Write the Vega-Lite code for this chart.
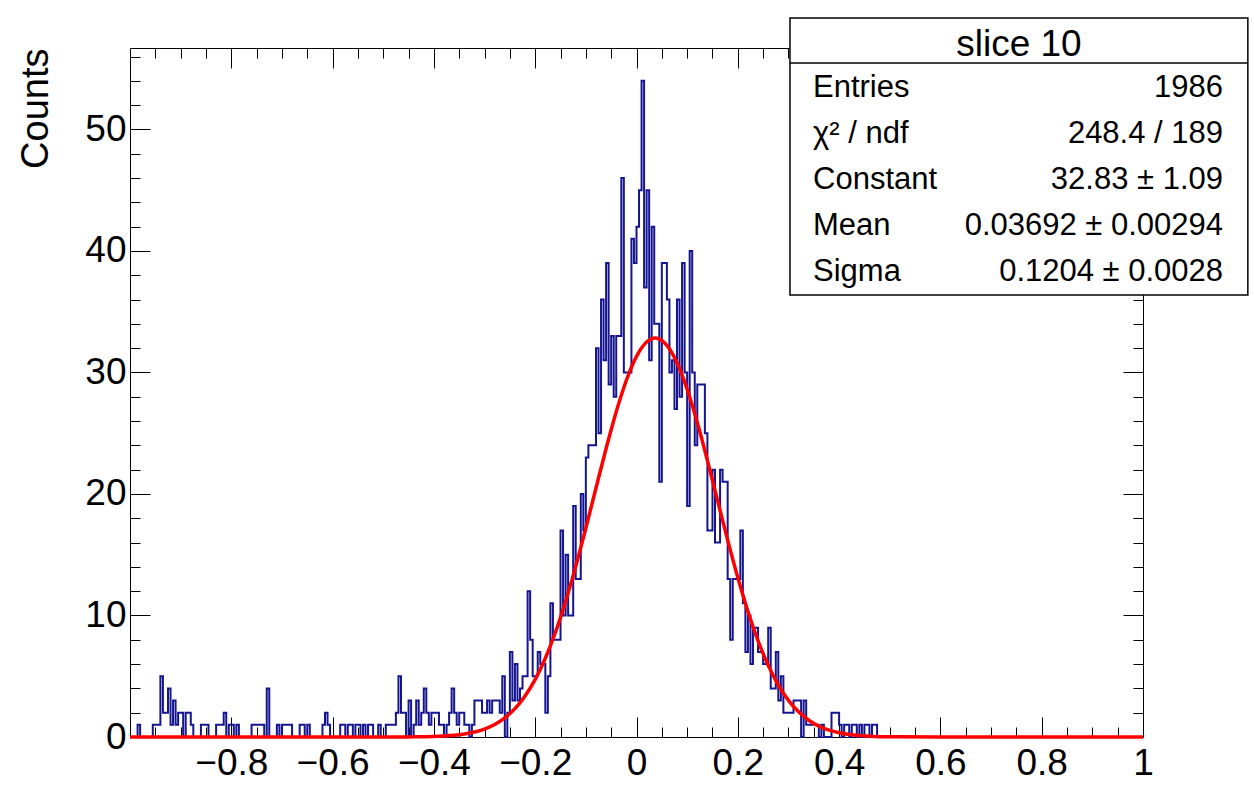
{
"$schema":"https://vega.github.io/schema/vega-lite/v6.json",
"width":1013,"height":689,
"autosize":{"type":"none"},
"padding":{"left":130,"top":48,"right":111,"bottom":50},
"background":"white",
"config":{"view":{"stroke":null},"font":"Liberation Sans",
"axis":{"grid":false,"labelFont":"Liberation Sans","titleFont":"Liberation Sans","tickColor":"black","domainColor":"black","labelColor":"black","titleColor":"black","titleFontWeight":"normal","tickWidth":1,"domainWidth":1}},
"datasets":{
"hist":[
{"x":-1,"n":0},{"x":-0.995,"n":0},{"x":-0.99,"n":0},{"x":-0.985,"n":1},{"x":-0.98,"n":0},{"x":-0.975,"n":0},{"x":-0.97,"n":0},{"x":-0.965,"n":0},{"x":-0.96,"n":0},{"x":-0.955,"n":1},
{"x":-0.95,"n":1},{"x":-0.945,"n":1},{"x":-0.94,"n":5},{"x":-0.935,"n":2},{"x":-0.93,"n":2},{"x":-0.925,"n":4},{"x":-0.92,"n":1},{"x":-0.915,"n":3},{"x":-0.91,"n":1},{"x":-0.905,"n":2},
{"x":-0.9,"n":2},{"x":-0.895,"n":0},{"x":-0.89,"n":2},{"x":-0.885,"n":2},{"x":-0.88,"n":1},{"x":-0.875,"n":0},{"x":-0.87,"n":0},{"x":-0.865,"n":0},{"x":-0.86,"n":1},{"x":-0.855,"n":1},
{"x":-0.85,"n":1},{"x":-0.845,"n":0},{"x":-0.84,"n":0},{"x":-0.835,"n":0},{"x":-0.83,"n":1},{"x":-0.825,"n":1},{"x":-0.82,"n":1},{"x":-0.815,"n":2},{"x":-0.81,"n":0},{"x":-0.805,"n":1},
{"x":-0.8,"n":1},{"x":-0.795,"n":0},{"x":-0.79,"n":1},{"x":-0.785,"n":0},{"x":-0.78,"n":0},{"x":-0.775,"n":0},{"x":-0.77,"n":0},{"x":-0.765,"n":0},{"x":-0.76,"n":1},{"x":-0.755,"n":1},
{"x":-0.75,"n":1},{"x":-0.745,"n":1},{"x":-0.74,"n":1},{"x":-0.735,"n":0},{"x":-0.73,"n":4},{"x":-0.725,"n":0},{"x":-0.72,"n":0},{"x":-0.715,"n":0},{"x":-0.71,"n":1},{"x":-0.705,"n":0},
{"x":-0.7,"n":1},{"x":-0.695,"n":1},{"x":-0.69,"n":1},{"x":-0.685,"n":1},{"x":-0.68,"n":0},{"x":-0.675,"n":0},{"x":-0.67,"n":0},{"x":-0.665,"n":1},{"x":-0.66,"n":1},{"x":-0.655,"n":0},
{"x":-0.65,"n":1},{"x":-0.645,"n":0},{"x":-0.64,"n":0},{"x":-0.635,"n":0},{"x":-0.63,"n":0},{"x":-0.625,"n":0},{"x":-0.62,"n":1},{"x":-0.615,"n":2},{"x":-0.61,"n":1},{"x":-0.605,"n":0},
{"x":-0.6,"n":0},{"x":-0.595,"n":0},{"x":-0.59,"n":0},{"x":-0.585,"n":1},{"x":-0.58,"n":1},{"x":-0.575,"n":0},{"x":-0.57,"n":1},{"x":-0.565,"n":1},{"x":-0.56,"n":0},{"x":-0.555,"n":1},
{"x":-0.55,"n":1},{"x":-0.545,"n":0},{"x":-0.54,"n":1},{"x":-0.535,"n":0},{"x":-0.53,"n":1},{"x":-0.525,"n":1},{"x":-0.52,"n":0},{"x":-0.515,"n":0},{"x":-0.51,"n":1},{"x":-0.505,"n":0},
{"x":-0.5,"n":0},{"x":-0.495,"n":1},{"x":-0.49,"n":1},{"x":-0.485,"n":1},{"x":-0.48,"n":1},{"x":-0.475,"n":2},{"x":-0.47,"n":5},{"x":-0.465,"n":2},{"x":-0.46,"n":2},{"x":-0.455,"n":0},
{"x":-0.45,"n":3},{"x":-0.445,"n":0},{"x":-0.44,"n":1},{"x":-0.435,"n":3},{"x":-0.43,"n":1},{"x":-0.425,"n":2},{"x":-0.42,"n":4},{"x":-0.415,"n":2},{"x":-0.41,"n":1},{"x":-0.405,"n":2},
{"x":-0.4,"n":2},{"x":-0.395,"n":2},{"x":-0.39,"n":1},{"x":-0.385,"n":1},{"x":-0.38,"n":0},{"x":-0.375,"n":1},{"x":-0.37,"n":2},{"x":-0.365,"n":4},{"x":-0.36,"n":2},{"x":-0.355,"n":1},
{"x":-0.35,"n":2},{"x":-0.345,"n":2},{"x":-0.34,"n":1},{"x":-0.335,"n":1},{"x":-0.33,"n":0},{"x":-0.325,"n":1},{"x":-0.32,"n":3},{"x":-0.315,"n":3},{"x":-0.31,"n":3},{"x":-0.305,"n":2},
{"x":-0.3,"n":2},{"x":-0.295,"n":3},{"x":-0.29,"n":2},{"x":-0.285,"n":3},{"x":-0.28,"n":3},{"x":-0.275,"n":3},{"x":-0.27,"n":2},{"x":-0.265,"n":5},{"x":-0.26,"n":0},{"x":-0.255,"n":2},
{"x":-0.25,"n":7},{"x":-0.245,"n":3},{"x":-0.24,"n":6},{"x":-0.235,"n":3},{"x":-0.23,"n":4},{"x":-0.225,"n":5},{"x":-0.22,"n":5},{"x":-0.215,"n":12},{"x":-0.21,"n":8},{"x":-0.205,"n":5},
{"x":-0.2,"n":5},{"x":-0.195,"n":7},{"x":-0.19,"n":6},{"x":-0.185,"n":6},{"x":-0.18,"n":2},{"x":-0.175,"n":5},{"x":-0.17,"n":11},{"x":-0.165,"n":8},{"x":-0.16,"n":8},{"x":-0.155,"n":8},
{"x":-0.15,"n":17},{"x":-0.145,"n":10},{"x":-0.14,"n":15},{"x":-0.135,"n":10},{"x":-0.13,"n":10},{"x":-0.125,"n":19},{"x":-0.12,"n":13},{"x":-0.115,"n":13},{"x":-0.11,"n":20},{"x":-0.105,"n":17},
{"x":-0.1,"n":23},{"x":-0.095,"n":24},{"x":-0.09,"n":24},{"x":-0.085,"n":24},{"x":-0.08,"n":32},{"x":-0.075,"n":25},{"x":-0.07,"n":36},{"x":-0.065,"n":31},{"x":-0.06,"n":39},{"x":-0.055,"n":29},
{"x":-0.05,"n":33},{"x":-0.045,"n":28},{"x":-0.04,"n":33},{"x":-0.035,"n":33},{"x":-0.03,"n":46},{"x":-0.025,"n":30},{"x":-0.02,"n":30},{"x":-0.015,"n":30},{"x":-0.01,"n":41},{"x":-0.005,"n":39},
{"x":0,"n":42},{"x":0.005,"n":45},{"x":0.01,"n":54},{"x":0.015,"n":37},{"x":0.02,"n":45},{"x":0.025,"n":31},{"x":0.03,"n":42},{"x":0.035,"n":34},{"x":0.04,"n":34},{"x":0.045,"n":21},
{"x":0.05,"n":39},{"x":0.055,"n":39},{"x":0.06,"n":36},{"x":0.065,"n":30},{"x":0.07,"n":31},{"x":0.075,"n":27},{"x":0.08,"n":36},{"x":0.085,"n":28},{"x":0.09,"n":39},{"x":0.095,"n":30},
{"x":0.1,"n":19},{"x":0.105,"n":40},{"x":0.11,"n":30},{"x":0.115,"n":24},{"x":0.12,"n":29},{"x":0.125,"n":29},{"x":0.13,"n":29},{"x":0.135,"n":25},{"x":0.14,"n":17},{"x":0.145,"n":17},
{"x":0.15,"n":22},{"x":0.155,"n":16},{"x":0.16,"n":16},{"x":0.165,"n":22},{"x":0.17,"n":21},{"x":0.175,"n":21},{"x":0.18,"n":13},{"x":0.185,"n":8},{"x":0.19,"n":13},{"x":0.195,"n":13},
{"x":0.2,"n":13},{"x":0.205,"n":17},{"x":0.21,"n":11},{"x":0.215,"n":7},{"x":0.22,"n":10},{"x":0.225,"n":6},{"x":0.23,"n":9},{"x":0.235,"n":9},{"x":0.24,"n":7},{"x":0.245,"n":7},
{"x":0.25,"n":6},{"x":0.255,"n":6},{"x":0.26,"n":9},{"x":0.265,"n":4},{"x":0.27,"n":4},{"x":0.275,"n":7},{"x":0.28,"n":3},{"x":0.285,"n":5},{"x":0.29,"n":2},{"x":0.295,"n":2},
{"x":0.3,"n":2},{"x":0.305,"n":2},{"x":0.31,"n":3},{"x":0.315,"n":3},{"x":0.32,"n":3},{"x":0.325,"n":0},{"x":0.33,"n":3},{"x":0.335,"n":1},{"x":0.34,"n":1},{"x":0.345,"n":1},
{"x":0.35,"n":1},{"x":0.355,"n":1},{"x":0.36,"n":0},{"x":0.365,"n":1},{"x":0.37,"n":0},{"x":0.375,"n":0},{"x":0.38,"n":0},{"x":0.385,"n":2},{"x":0.39,"n":2},{"x":0.395,"n":2},
{"x":0.4,"n":1},{"x":0.405,"n":0},{"x":0.41,"n":1},{"x":0.415,"n":1},{"x":0.42,"n":0},{"x":0.425,"n":1},{"x":0.43,"n":1},{"x":0.435,"n":0},{"x":0.44,"n":1},{"x":0.445,"n":0},
{"x":0.45,"n":1},{"x":0.455,"n":1},{"x":0.46,"n":0},{"x":0.465,"n":1},{"x":0.47,"n":1},{"x":0.475,"n":0},{"x":0.48,"n":0},{"x":0.485,"n":0},{"x":0.49,"n":0},{"x":0.495,"n":0},
{"x":0.5,"n":0},{"x":0.505,"n":0},{"x":0.51,"n":0},{"x":0.515,"n":0},{"x":0.52,"n":0},{"x":0.525,"n":0},{"x":0.53,"n":0},{"x":0.535,"n":0},{"x":0.54,"n":0},{"x":0.545,"n":0},
{"x":0.55,"n":0},{"x":0.555,"n":0},{"x":0.56,"n":0},{"x":0.565,"n":0},{"x":0.57,"n":0},{"x":0.575,"n":0},{"x":0.58,"n":0},{"x":0.585,"n":0},{"x":0.59,"n":0},{"x":0.595,"n":0},
{"x":0.6,"n":0},{"x":0.605,"n":0},{"x":0.61,"n":0},{"x":0.615,"n":0},{"x":0.62,"n":0},{"x":0.625,"n":0},{"x":0.63,"n":0},{"x":0.635,"n":0},{"x":0.64,"n":0},{"x":0.645,"n":0},
{"x":0.65,"n":0},{"x":0.655,"n":0},{"x":0.66,"n":0},{"x":0.665,"n":0},{"x":0.67,"n":0},{"x":0.675,"n":0},{"x":0.68,"n":0},{"x":0.685,"n":0},{"x":0.69,"n":0},{"x":0.695,"n":0},
{"x":0.7,"n":0},{"x":0.705,"n":0},{"x":0.71,"n":0},{"x":0.715,"n":0},{"x":0.72,"n":0},{"x":0.725,"n":0},{"x":0.73,"n":0},{"x":0.735,"n":0},{"x":0.74,"n":0},{"x":0.745,"n":0},
{"x":0.75,"n":0},{"x":0.755,"n":0},{"x":0.76,"n":0},{"x":0.765,"n":0},{"x":0.77,"n":0},{"x":0.775,"n":0},{"x":0.78,"n":0},{"x":0.785,"n":0},{"x":0.79,"n":0},{"x":0.795,"n":0},
{"x":0.8,"n":0},{"x":0.805,"n":0},{"x":0.81,"n":0},{"x":0.815,"n":0},{"x":0.82,"n":0},{"x":0.825,"n":0},{"x":0.83,"n":0},{"x":0.835,"n":0},{"x":0.84,"n":0},{"x":0.845,"n":0},
{"x":0.85,"n":0},{"x":0.855,"n":0},{"x":0.86,"n":0},{"x":0.865,"n":0},{"x":0.87,"n":0},{"x":0.875,"n":0},{"x":0.88,"n":0},{"x":0.885,"n":0},{"x":0.89,"n":0},{"x":0.895,"n":0},
{"x":0.9,"n":0},{"x":0.905,"n":0},{"x":0.91,"n":0},{"x":0.915,"n":0},{"x":0.92,"n":0},{"x":0.925,"n":0},{"x":0.93,"n":0},{"x":0.935,"n":0},{"x":0.94,"n":0},{"x":0.945,"n":0},
{"x":0.95,"n":0},{"x":0.955,"n":0},{"x":0.96,"n":0},{"x":0.965,"n":0},{"x":0.97,"n":0},{"x":0.975,"n":0},{"x":0.98,"n":0},{"x":0.985,"n":0},{"x":0.99,"n":0},{"x":0.995,"n":0},
{"x":1,"n":0}
],
"fit":[
{"x":-1,"f":0},{"x":-0.5,"f":0.002},{"x":-0.46,"f":0.007},{"x":-0.44,"f":0.013},{"x":-0.42,"f":0.025},{"x":-0.4,"f":0.045},{"x":-0.38,"f":0.082},{"x":-0.36,"f":0.143},{"x":-0.34,"f":0.245},{"x":-0.32,"f":0.406},
{"x":-0.3,"f":0.654},{"x":-0.28,"f":1.028},{"x":-0.26,"f":1.569},{"x":-0.24,"f":2.331},{"x":-0.22,"f":3.369},{"x":-0.2,"f":4.736},{"x":-0.18,"f":6.477},{"x":-0.16,"f":8.618},{"x":-0.14,"f":11.153},{"x":-0.12,"f":14.042},
{"x":-0.1,"f":17.197},{"x":-0.08,"f":20.489},{"x":-0.06,"f":23.744},{"x":-0.04,"f":26.77},{"x":-0.02,"f":29.359},{"x":0,"f":31.322},{"x":0.02,"f":32.507},{"x":0.03692,"f":32.83},{"x":0.04,"f":32.819},{"x":0.06,"f":32.232},
{"x":0.08,"f":30.794},{"x":0.1,"f":28.62},{"x":0.12,"f":25.875},{"x":0.14,"f":22.756},{"x":0.16,"f":19.469},{"x":0.18,"f":16.204},{"x":0.2,"f":13.118},{"x":0.22,"f":10.331},{"x":0.24,"f":7.915},{"x":0.26,"f":5.9},
{"x":0.28,"f":4.277},{"x":0.3,"f":3.016},{"x":0.32,"f":2.069},{"x":0.34,"f":1.381},{"x":0.36,"f":0.897},{"x":0.38,"f":0.566},{"x":0.4,"f":0.348},{"x":0.42,"f":0.208},{"x":0.44,"f":0.121},{"x":0.46,"f":0.068},
{"x":0.5,"f":0.02},{"x":0.6,"f":0},{"x":1,"f":0}
],
"stats":[
{"line":1,"stat":"Entries","value":"1986"},
{"line":2,"stat":"χ² / ndf","value":"248.4 / 189"},
{"line":3,"stat":"Constant","value":"32.83 ± 1.09"},
{"line":4,"stat":"Mean","value":"0.03692 ± 0.00294"},
{"line":5,"stat":"Sigma","value":"0.1204 ± 0.0028"}
],
"box":[{"label":"slice 10"}]
},
"resolve":{"scale":{"y":"independent"},"axis":{"x":"independent","y":"independent"}},
"layer":[
{"data":{"name":"fit"},
"mark":{"type":"line","strokeOpacity":0},
"encoding":{
"x":{"field":"x","type":"quantitative","scale":{"domain":[-1,1],"nice":false,"zero":false},
"axis":{"orient":"bottom","values":[-0.95,-0.9,-0.85,-0.75,-0.7,-0.65,-0.55,-0.5,-0.45,-0.35,-0.3,-0.25,-0.15,-0.1,-0.05,0.05,0.1,0.15,0.25,0.3,0.35,0.45,0.5,0.55,0.65,0.7,0.75,0.85,0.9,0.95],"labels":false,"domain":false,"tickSize":-10,"title":null}},
"y":{"field":"f","type":"quantitative","scale":{"domain":[0,56.7],"nice":false,"zero":true},
"axis":{"orient":"left","values":[2,4,6,8,12,14,16,18,22,24,26,28,32,34,36,38,42,44,46,48,52,54,56],"labels":false,"domain":false,"tickSize":-10,"title":null}}}},
{"data":{"name":"fit"},
"mark":{"type":"line","strokeOpacity":0},
"encoding":{
"x":{"field":"x","type":"quantitative","scale":{"domain":[-1,1],"nice":false,"zero":false},
"axis":{"orient":"top","values":[-0.8,-0.6,-0.4,-0.2,0,0.2,0.4,0.6,0.8],"labels":false,"domain":true,"tickSize":-20,"title":null}},
"y":{"field":"f","type":"quantitative","scale":{"domain":[0,56.7],"nice":false,"zero":true},
"axis":{"orient":"right","values":[10,20,30,40,50],"labels":false,"domain":true,"tickSize":-20,"title":null}}}},
{"data":{"name":"fit"},
"mark":{"type":"line","strokeOpacity":0},
"encoding":{
"x":{"field":"x","type":"quantitative","scale":{"domain":[-1,1],"nice":false,"zero":false},
"axis":{"orient":"top","values":[-0.95,-0.9,-0.85,-0.75,-0.7,-0.65,-0.55,-0.5,-0.45,-0.35,-0.3,-0.25,-0.15,-0.1,-0.05,0.05,0.1,0.15,0.25,0.3,0.35,0.45,0.5,0.55,0.65,0.7,0.75,0.85,0.9,0.95],"labels":false,"domain":false,"tickSize":-10,"title":null}},
"y":{"field":"f","type":"quantitative","scale":{"domain":[0,56.7],"nice":false,"zero":true},
"axis":{"orient":"right","values":[2,4,6,8,12,14,16,18,22,24,26,28,32,34,36,38,42,44,46,48,52,54,56],"labels":false,"domain":false,"tickSize":-10,"title":null}}}},
{"data":{"name":"hist"},
"mark":{"type":"line","interpolate":"step-after","color":"#15158f","strokeWidth":2},
"encoding":{
"x":{"field":"x","type":"quantitative","scale":{"domain":[-1,1],"nice":false,"zero":false},
"axis":{"orient":"bottom","values":[-0.8,-0.6,-0.4,-0.2,0,0.2,0.4,0.6,0.8,1],"format":"~g","title":null,"tickSize":-20,"labelPadding":28,"labelFontSize":37,"labelFlush":false,"labelOverlap":false,"domain":true}},
"y":{"field":"n","type":"quantitative","scale":{"domain":[0,56.7],"nice":false,"zero":true},
"axis":{"orient":"left","values":[0,10,20,30,40,50],"title":"Counts","titleFontSize":38,"titleAnchor":"end","titlePadding":29,"tickSize":-20,"labelPadding":24,"labelFontSize":37,"labelFlush":false,"labelOverlap":false,"domain":true}}}},
{"data":{"name":"fit"},
"mark":{"type":"line","interpolate":"monotone","color":"#ff0000","strokeWidth":3.5},
"encoding":{
"x":{"field":"x","type":"quantitative","scale":{"domain":[-1,1],"nice":false,"zero":false},"axis":null},
"y":{"field":"f","type":"quantitative","scale":{"domain":[0,56.7],"nice":false,"zero":true},"axis":null}}},
{"data":{"name":"box"},
"mark":{"type":"rect","fill":"white","stroke":"black","strokeWidth":1.5},
"encoding":{
"x":{"datum":0.303,"type":"quantitative","axis":null},
"x2":{"datum":1.207},
"y":{"datum":59.17,"type":"quantitative","scale":{"domain":[0,56.7],"nice":false,"zero":true},"axis":null},
"y2":{"datum":36.37}}},
{"data":{"name":"box"},
"mark":{"type":"rule","stroke":"black","strokeWidth":1.5},
"encoding":{
"x":{"datum":0.303,"type":"quantitative","axis":null},
"x2":{"datum":1.207},
"y":{"datum":55.46,"type":"quantitative","scale":{"domain":[0,56.7],"nice":false,"zero":true},"axis":null}}},
{"data":{"name":"box"},
"mark":{"type":"text","fontSize":37,"align":"center","baseline":"middle","color":"black"},
"encoding":{
"text":{"field":"label"},
"x":{"datum":0.755,"type":"quantitative","axis":null},
"y":{"datum":56.95,"type":"quantitative","scale":{"domain":[0,56.7],"nice":false,"zero":true},"axis":null}}},
{"data":{"name":"stats"},
"mark":{"type":"text","fontSize":31,"align":"left","baseline":"middle","color":"black"},
"encoding":{
"text":{"field":"stat"},
"x":{"datum":0.3485,"type":"quantitative","axis":null},
"y":{"field":"line","type":"quantitative","scale":{"domain":[0.13,15.11],"reverse":true,"nice":false,"zero":false},"axis":null}}},
{"data":{"name":"stats"},
"mark":{"type":"text","fontSize":31,"align":"right","baseline":"middle","color":"black"},
"encoding":{
"text":{"field":"value"},
"x":{"datum":1.158,"type":"quantitative","axis":null},
"y":{"field":"line","type":"quantitative","scale":{"domain":[0.13,15.11],"reverse":true,"nice":false,"zero":false},"axis":null}}}
]
}
